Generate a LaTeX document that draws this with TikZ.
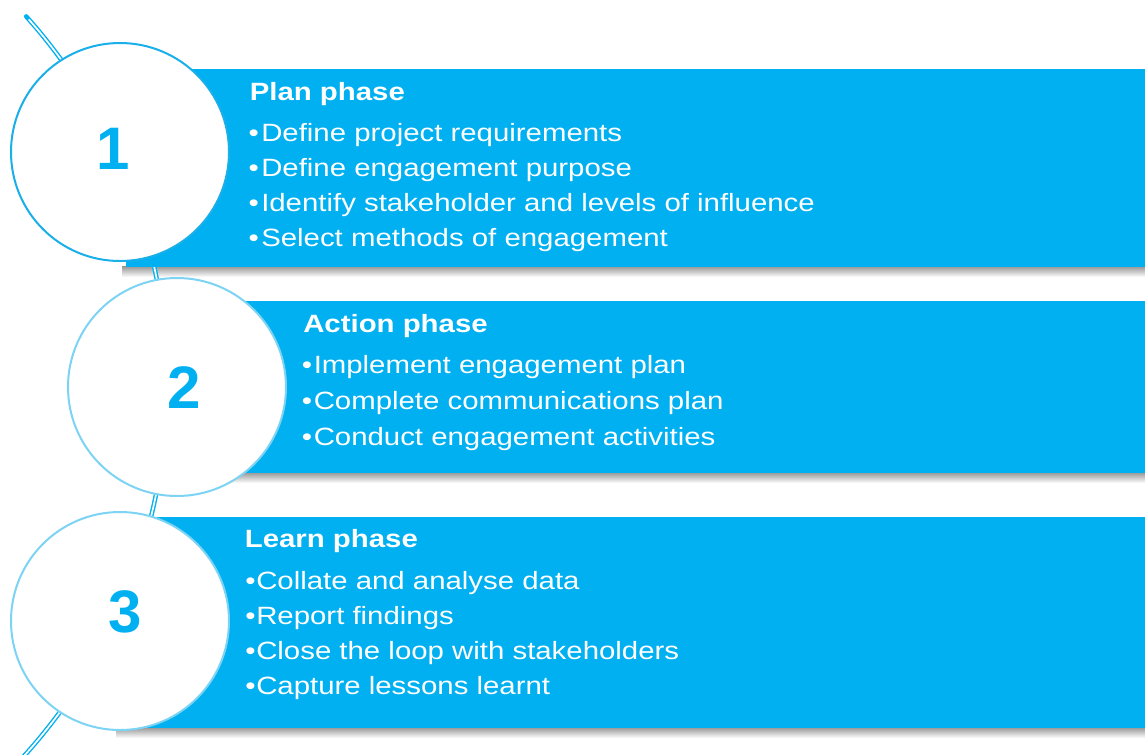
\documentclass[tikz,border=0pt]{standalone}
\usepackage{fontspec}
\setmainfont{Liberation Sans}
\newfontfamily\barfont[FakeStretch=1.175]{Liberation Sans}
\definecolor{barblue}{HTML}{00B0F0}
\definecolor{ringdark}{HTML}{1BAFEA}
\definecolor{ringlight}{HTML}{7DD3F3}
\begin{document}
\begin{tikzpicture}[x=0.75pt,y=-0.75pt,
  bar/.style={fill=barblue},
  barshadow/.style={top color=black!42, bottom color=white},
  ring/.style={circle, fill=white, line width=1.5pt, inner sep=0pt, minimum size=163.5pt},
  num/.style={text=barblue, font=\fontsize{45pt}{45pt}\selectfont\bfseries, inner sep=0pt},
  title/.style={text=white, anchor=base west, inner sep=0pt, font=\fontsize{18.75pt}{22pt}\barfont\bfseries},
  item/.style={text=white, anchor=base west, inner sep=0pt, font=\fontsize{18.75pt}{22pt}\barfont}
]
\useasboundingbox (0,0) rectangle (1145,754);
% shadows
\shade[barshadow] (122,266) rectangle (1145,277);
\shade[barshadow] (179,472) rectangle (1145,483);
\shade[barshadow] (116,727) rectangle (1145,738);
% connecting arc (double line)
\draw[barblue, line width=3.4pt, line cap=round] plot[smooth, domain=-41.8:44, samples=50] ({-386+553*cos(\x)},{385+553*sin(\x)});
\draw[white, line width=1.3pt] plot[smooth, domain=-41.4:44, samples=50] ({-386+553*cos(\x)},{385+553*sin(\x)});
% bars
\path[bar] (126,69) rectangle (1145,267);
\path[bar] (183,301) rectangle (1145,473);
\path[bar] (120,517) rectangle (1145,728);
% circles
\node[ring, draw=ringdark] (c1) at (120,152) {};
\node[ring, draw=ringlight] (c2) at (177,387) {};
\node[ring, draw=ringlight] (c3) at (120,621) {};
\node[num] (n1) at (113,149) {1};
\node[num] (n2) at (184,388) {2};
\node[num] (n3) at (125,612) {3};
% texts bar 1
\node[title] (h1) at (249.5,100) {Plan phase};
\foreach \t [count=\i] in {Define project requirements, Define engagement purpose, Identify stakeholder and levels of influence, Select methods of engagement}
  \node[item] (a\i) at (261,{141.7+35*(\i-1)}) {\llap{\makebox[9.4pt][l]{•}}\t};
% texts bar 2
\node[title] (h2) at (303,332) {Action phase};
\foreach \t [count=\i] in {Implement engagement plan, Complete communications plan, Conduct engagement activities}
  \node[item] (b\i) at (313.5,{373+36*(\i-1)}) {\llap{\makebox[9pt][l]{•}}\t};
% texts bar 3
\node[title] (h3) at (244.6,547) {Learn phase};
\foreach \t [count=\i] in {Collate and analyse data, Report findings, Close the loop with stakeholders, Capture lessons learnt}
  \node[item] (d\i) at (256,{589+35.3*(\i-1)}) {\llap{\makebox[8.2pt][l]{•}}\t};
\end{tikzpicture}
\end{document}
